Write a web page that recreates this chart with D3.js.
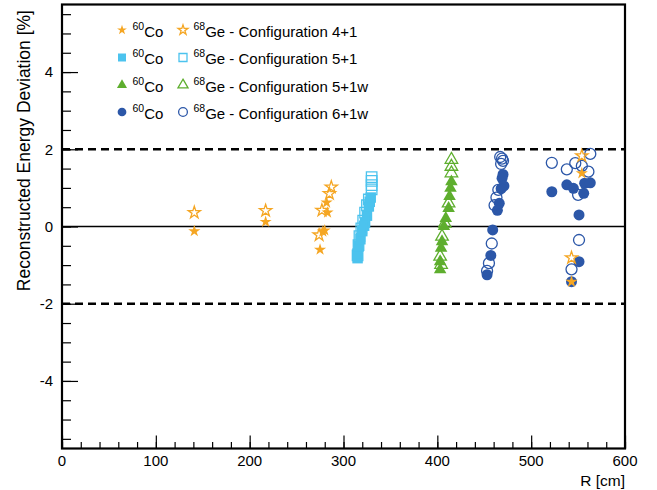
<!DOCTYPE html>
<html><head><meta charset="utf-8">
<script src="https://cdn.jsdelivr.net/npm/d3@7"></script>
<style>body{margin:0;background:#fff}svg{display:block;font-family:"Liberation Sans",Arial,sans-serif}</style>
</head><body><svg id="c" width="657" height="490"></svg>
<script>
// ---- data ----
const xTicks = [0,100,200,300,400,500,600];
const yTicks = [-4,-2,0,2,4];
const seriesNames = ["Configuration 4+1","Configuration 5+1","Configuration 5+1w","Configuration 6+1w"];
const colors = ["#f5a623","#4cc3ee","#5eae2e","#2c57a8"];
const shapes = ["star","square","triangle","circle"];
// R [cm], deviation [%]
const co_4p1 = [[141,-0.12],[217,0.12],[282,0.62],[283,0.36],[280,-0.10],[278,-0.13],[275,-0.60],[554,1.38],[543,-1.43]];
const ge_4p1 = [[141,0.36],[217,0.41],[287,1.02],[285,0.85],[277,0.42],[274,-0.22],[554,1.83],[543,-0.81]];
const co_5p1 = [[315,-0.82],[315,-0.70],[316,-0.52],[318,-0.33],[320,-0.12],[322,0.02],[323,0.10],[325,0.28],[327,0.52],[328,0.64],[329,0.75]];
const ge_5p1 = [[315,-0.75],[316,-0.48],[317,-0.25],[319,-0.05],[321,0.15],[323,0.36],[325,0.55],[327,0.70],[330,0.96],[330,1.07],[330,1.18],[330,1.28]];
const co_5p1w = [[415,1.20],[414,1.03],[413,0.82],[412,0.51],[409,0.25],[407,0.04],[405,-0.35],[404,-0.52],[403,-0.87],[403,-1.08]];
const ge_5p1w = [[415,1.77],[415,1.59],[415,1.42],[412,0.64],[408,0.12],[405,-0.22],[403,-0.74],[404,-0.95]];
const co_6p1w = [[470,1.35],[469,1.25],[471,1.05],[468,0.98],[466,0.60],[464,0.42],[459,-0.09],[457,-0.75],[453,-1.25],
                 [522,0.90],[538,1.08],[545,0.99],[556,0.86],[557,1.12],[563,1.13],[551,0.30],[551,-0.91],[543,-1.43]];
const ge_6p1w = [[467,1.80],[469,1.76],[470,1.70],[468,1.62],[465,0.95],[463,0.75],[461,0.55],[458,-0.44],[455,-0.95],[453,-1.15],
                 [522,1.65],[547,1.64],[538,1.48],[550,0.82],[563,1.88],[554,1.57],[561,1.42],[551,-0.35],[543,-1.11]];
const coSets = [co_4p1,co_5p1,co_5p1w,co_6p1w];
const geSets = [ge_4p1,ge_5p1,ge_5p1w,ge_6p1w];

// ---- layout ----
const L=62,R=625,T=4.5,B=448.5;
const x = d3.scaleLinear().domain([0,600]).range([L,R]);
const y = d3.scaleLinear().domain([-5.75,5.75]).range([B,T]);
const svg = d3.select("#c");

const symType = {star:d3.symbolStar,square:d3.symbolSquare,triangle:d3.symbolTriangle,circle:d3.symbolCircle};
const symSize = {star:46,square:110,triangle:68,circle:95};
const legSize = {star:30,square:64,triangle:44,circle:60};

// reference lines
svg.append("line").attr("x1",L).attr("x2",R).attr("y1",y(0)).attr("y2",y(0)).attr("stroke","#000").attr("stroke-width",1.3);
[2,-2].forEach(v=>svg.append("line").attr("x1",L).attr("x2",R).attr("y1",y(v)).attr("y2",y(v))
  .attr("stroke","#000").attr("stroke-width",2.5).attr("stroke-dasharray","8,5"));

// markers (draw 6+1w first, stars last)
const order=[3,2,1,0];
order.forEach(i=>{
  const sym=d3.symbol().type(symType[shapes[i]]).size(symSize[shapes[i]]);
  const dy = shapes[i]==="triangle"?1.5:0;
  svg.append("g").selectAll("path").data(coSets[i]).join("path")
    .attr("d",sym).attr("transform",d=>`translate(${x(d[0])},${y(d[1])+dy})`)
    .attr("fill",colors[i]);
  svg.append("g").selectAll("path").data(geSets[i]).join("path")
    .attr("d",sym).attr("transform",d=>`translate(${x(d[0])},${y(d[1])+dy})`)
    .attr("fill","none").attr("stroke",colors[i]).attr("stroke-width",1.3);
});

// axes
const yAx = d3.axisRight(y).tickValues(d3.range(-5.5,5.51,0.5)).tickSize(9).tickFormat("");
svg.append("g").attr("transform",`translate(${L},0)`).call(yAx).call(g=>{g.select(".domain").remove();g.selectAll("line").attr("stroke","#000").attr("stroke-width",1.2);});
svg.append("g").attr("transform",`translate(${L},0)`).call(d3.axisRight(y).tickValues(yTicks).tickSize(16).tickFormat(""))
  .call(g=>{g.select(".domain").remove();g.selectAll("line").attr("stroke","#000").attr("stroke-width",1.2);});
svg.append("g").selectAll("text").data(yTicks).join("text")
  .attr("x",53).attr("y",d=>y(d)).attr("dy","0.36em").attr("text-anchor","end").attr("font-size",15).text(d=>d);

const xAx = d3.axisTop(x).tickValues(d3.range(0,601,20)).tickSize(6.5).tickFormat("");
svg.append("g").attr("transform",`translate(0,${B})`).call(xAx).call(g=>{g.select(".domain").remove();g.selectAll("line").attr("stroke","#000").attr("stroke-width",1.2);});
svg.append("g").attr("transform",`translate(0,${B})`).call(d3.axisTop(x).tickValues(xTicks).tickSize(13).tickFormat(""))
  .call(g=>{g.select(".domain").remove();g.selectAll("line").attr("stroke","#000").attr("stroke-width",1.2);});
svg.append("g").selectAll("text").data(xTicks).join("text")
  .attr("x",d=>x(d)).attr("y",466).attr("text-anchor","middle").attr("font-size",15).text(d=>d);

// frame
svg.append("rect").attr("x",L).attr("y",T).attr("width",R-L).attr("height",B-T).attr("fill","none").attr("stroke","#000").attr("stroke-width",2.2);

// titles
svg.append("text").attr("x",R).attr("y",486).attr("text-anchor","end").attr("font-size",15.5).text("R [cm]");
svg.append("text").attr("transform","translate(30,10) rotate(-90)").attr("text-anchor","end").attr("font-size",17.5)
  .text("Reconstructed Energy Deviation [%]");

// legend
const leg = svg.append("g");
const rowsY=[30,57.5,85,112];
seriesNames.forEach((name,i)=>{
  const cy=rowsY[i];
  const sym=d3.symbol().type(symType[shapes[i]]).size(legSize[shapes[i]]);
  leg.append("path").attr("d",sym).attr("transform",`translate(122,${cy})`).attr("fill",colors[i]);
  const t1=leg.append("text").attr("x",132.5).attr("y",cy+6.5).attr("font-size",15);
  t1.append("tspan").attr("font-size",10.5).attr("dy",-7).text("60");
  t1.append("tspan").attr("dy",7).text("Co");
  leg.append("path").attr("d",sym).attr("transform",`translate(183,${cy})`).attr("fill","none").attr("stroke",colors[i]).attr("stroke-width",1.3);
  const t2=leg.append("text").attr("x",193.5).attr("y",cy+6.5).attr("font-size",15);
  t2.append("tspan").attr("font-size",10.5).attr("dy",-7).text("68");
  t2.append("tspan").attr("dy",7).text("Ge - "+name);
});
</script></body></html>
